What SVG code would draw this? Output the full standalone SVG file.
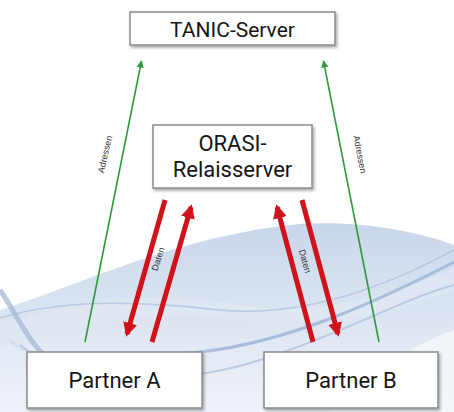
<svg xmlns="http://www.w3.org/2000/svg" width="454" height="412" viewBox="0 0 454 412">
<defs>
<style>
.box{fill:#fff;stroke:#8a8a8a;stroke-width:1.5;filter:url(#sh)}
.lbl{font-family:Roboto,"Liberation Sans",sans-serif;font-size:22px;fill:#151515;text-anchor:middle}
.small{font-family:"Liberation Sans",Arial,sans-serif;font-size:9px;fill:#333;text-anchor:middle}
.green{stroke:#2e9a3a;stroke-width:1.6;fill:none;marker-end:url(#ga)}
.red{stroke:#d0121b;stroke-width:5;fill:none;marker-end:url(#ra)}
</style>
<filter id="sh" x="-10%" y="-20%" width="125%" height="150%">
<feDropShadow dx="1.5" dy="2" stdDeviation="1.5" flood-color="#000" flood-opacity="0.35"/>
</filter>
<marker id="ga" viewBox="0 0 10 10" refX="9" refY="5" markerWidth="4.5" markerHeight="4.5" orient="auto" markerUnits="strokeWidth">
<path d="M0,0 L10,5 L0,10 z" fill="#2e9a3a"/>
</marker>
<marker id="ra" viewBox="0 0 10 10" refX="8" refY="5" markerWidth="2.8" markerHeight="2.8" orient="auto" markerUnits="strokeWidth">
<path d="M0,0 L10,5 L0,10 z" fill="#d0121b"/>
</marker>
<linearGradient id="wg" x1="0" y1="0" x2="0" y2="1">
<stop offset="0" stop-color="#c3d2e8"/>
<stop offset="1" stop-color="#eef2f8"/>
</linearGradient>
<linearGradient id="wg2" x1="0" y1="0" x2="1" y2="0">
<stop offset="0" stop-color="#9fb6d8" stop-opacity="0.2"/>
<stop offset="0.5" stop-color="#8faad2" stop-opacity="0.7"/>
<stop offset="1" stop-color="#7d9cca" stop-opacity="0.5"/>
</linearGradient>
</defs>
<rect width="454" height="412" fill="#fff"/>
<g id="background">
<path d="M0,310 C80,285 180,235 300,224 C360,220 420,232 454,245 L454,412 L0,412 z" fill="url(#wg)" opacity="0.9"/>
<path d="M0,330 C60,300 150,290 240,305 C320,318 390,295 454,268 L454,290 C400,310 330,330 250,320 C160,308 70,320 0,350 z" fill="#dfe7f2" opacity="0.8"/>
<path d="M10,340 C40,370 120,360 200,352 C290,342 380,300 454,262" stroke="url(#wg2)" stroke-width="3" fill="none"/>
<path d="M0,318 C60,300 130,300 220,310 C300,318 380,290 454,250" stroke="#b8c9e2" stroke-width="1.5" fill="none"/>
<path d="M20,345 C80,395 200,380 260,360 C340,335 400,300 454,285" stroke="#a8bddc" stroke-width="2" fill="none" opacity="0.7"/>
<path d="M0,290 C20,320 30,345 50,360" stroke="#9fb5d6" stroke-width="5" fill="none" opacity="0.7"/>
<path d="M454,330 C400,350 360,380 330,412 L454,412 z" fill="#f4f7fb" opacity="0.8"/>
</g>
<g id="connectors">
<line class="green" x1="85" y1="342" x2="141.5" y2="61"/>
<line class="green" x1="379" y1="342" x2="323.5" y2="61"/>
<line class="red" x1="165" y1="200" x2="127" y2="334"/>
<line class="red" x1="152" y1="342" x2="191" y2="207"/>
<line class="red" x1="313" y1="342" x2="277" y2="207"/>
<line class="red" x1="302" y1="200" x2="338" y2="334"/>
<text class="small" transform="translate(108,155) rotate(-77)">Adressen</text>
<text class="small" transform="translate(357,155) rotate(79)">Adressen</text>
<text class="small" transform="translate(161,260) rotate(-72)">Daten</text>
<text class="small" transform="translate(302,262) rotate(74)">Daten</text>
</g>
<g id="tanic">
<rect class="box" x="130" y="12" width="205" height="33"/>
<text class="lbl" x="232.5" y="36.5" style="font-size:21px">TANIC-Server</text>
</g>
<g id="orasi">
<rect class="box" x="153" y="125" width="159" height="63"/>
<text class="lbl" x="232.5" y="151">ORASI-</text>
<text class="lbl" x="232.5" y="177">Relaisserver</text>
</g>
<g id="partnerA">
<rect class="box" x="27" y="352" width="175" height="56"/>
<text class="lbl" x="114.5" y="388">Partner A</text>
</g>
<g id="partnerB">
<rect class="box" x="264" y="352" width="174" height="56"/>
<text class="lbl" x="351" y="388">Partner B</text>
</g>
</svg>
